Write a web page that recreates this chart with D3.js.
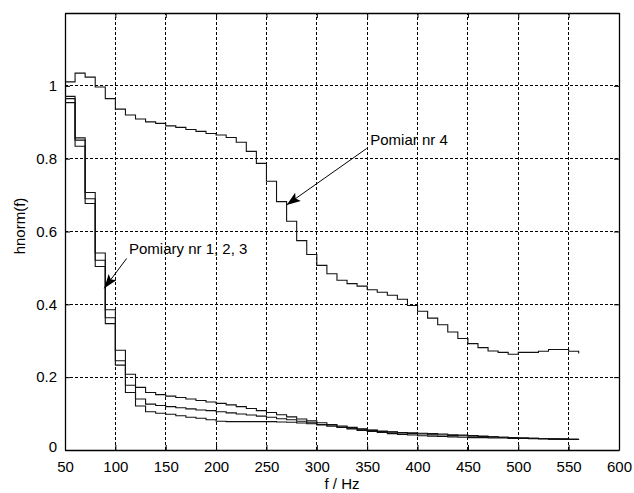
<!DOCTYPE html>
<meta charset="utf-8">
<html>
<head>
<style>
  body { margin: 0; background: #fff; }
  text { font-family: "Liberation Sans", Arial, sans-serif; fill: #000; }
</style>
</head>
<body>
<script src="https://d3js.org/d3.v7.min.js"></script>
<div id="chart"></div>
<script>

// frequency of each step (Hz)
var freqs = [50, 60, 70, 80, 90, 100, 110, 120, 130, 140, 150, 160, 170, 180, 190,
             200, 210, 220, 230, 240, 250, 260, 270, 280, 290, 300, 310, 320, 330, 340,
             350, 360, 370, 380, 390, 400, 410, 420, 430, 440, 450, 460, 470, 480, 490,
             500, 510, 520, 530, 540, 550, 560];

// Pomiar nr 1, 2, 3 (upper / middle / lower)
var h1 = [0.971, 0.857, 0.707, 0.541, 0.385, 0.274, 0.208, 0.172, 0.158, 0.152, 0.148, 0.144, 0.140, 0.136, 0.132,
          0.128, 0.124, 0.119, 0.114, 0.108, 0.103, 0.097, 0.091, 0.085, 0.080, 0.075, 0.070, 0.066, 0.062, 0.058,
          0.055, 0.052, 0.050, 0.048, 0.047, 0.046, 0.045, 0.044, 0.042, 0.041, 0.040, 0.038, 0.036, 0.035, 0.034,
          0.033, 0.032, 0.031, 0.030, 0.030, 0.029, 0.028];
var h2 = [0.965, 0.851, 0.690, 0.521, 0.363, 0.245, 0.178, 0.140, 0.126, 0.122, 0.119, 0.116, 0.113, 0.110, 0.108,
          0.105, 0.102, 0.099, 0.096, 0.093, 0.090, 0.086, 0.083, 0.079, 0.075, 0.070, 0.066, 0.062, 0.058, 0.054,
          0.051, 0.048, 0.045, 0.043, 0.041, 0.039, 0.038, 0.037, 0.036, 0.035, 0.034, 0.034, 0.033, 0.033, 0.032,
          0.032, 0.031, 0.031, 0.030, 0.030, 0.029, 0.029];
var h3 = [0.954, 0.834, 0.677, 0.504, 0.347, 0.233, 0.158, 0.121, 0.105, 0.101, 0.098, 0.094, 0.090, 0.087, 0.083,
          0.079, 0.078, 0.078, 0.078, 0.078, 0.078, 0.077, 0.076, 0.074, 0.072, 0.069, 0.066, 0.063, 0.060, 0.057,
          0.054, 0.051, 0.049, 0.047, 0.045, 0.044, 0.042, 0.041, 0.040, 0.039, 0.038, 0.037, 0.036, 0.035, 0.034,
          0.033, 0.032, 0.031, 0.031, 0.030, 0.030, 0.030];
// Pomiar nr 4
var h4 = [1.011, 1.035, 1.024, 0.997, 0.965, 0.936, 0.920, 0.909, 0.901, 0.897, 0.890, 0.886, 0.880, 0.875, 0.869,
          0.865, 0.858, 0.845, 0.820, 0.787, 0.738, 0.682, 0.628, 0.575, 0.537, 0.507, 0.484, 0.466, 0.457, 0.450,
          0.440, 0.433, 0.425, 0.414, 0.397, 0.381, 0.362, 0.344, 0.324, 0.306, 0.292, 0.281, 0.272, 0.268, 0.263,
          0.268, 0.268, 0.271, 0.276, 0.276, 0.271, 0.265];

var xTicks = [50, 100, 150, 200, 250, 300, 350, 400, 450, 500, 550, 600];
var yTicks = [0, 0.2, 0.4, 0.6, 0.8, 1];

// annotations: text position and arrow from -> to, in data units
var notes = [
  {label: "Pomiar nr 4", tx: 353, ty: 0.837, x1: 349.5, y1: 0.828, x2: 270, y2: 0.673},
  {label: "Pomiary nr 1, 2, 3", tx: 113.5, ty: 0.538, x1: 111.2, y1: 0.526, x2: 89, y2: 0.444}
];

var W = 634, H = 493;
var pLeft = 65, pRight = 619, pTop = 13, pBottom = 450;

var svg = d3.select("#chart").append("svg")
    .attr("width", W)
    .attr("height", H);

var x = d3.scaleLinear().domain([50, 600]).range([pLeft, pRight]);
var y = d3.scaleLinear().domain([0, 1.2]).range([pBottom, pTop]);

// grid
var grid = svg.append("g")
    .attr("stroke", "#000")
    .attr("stroke-width", 1)
    .attr("stroke-dasharray", "3,2")
    .attr("shape-rendering", "crispEdges");
grid.selectAll(".gx")
    .data(xTicks.slice(1, -1))
    .enter().append("line")
      .attr("x1", function(d) { return x(d); })
      .attr("x2", function(d) { return x(d); })
      .attr("y1", pBottom).attr("y2", pTop);
grid.selectAll(".gy")
    .data(yTicks.slice(1))
    .enter().append("line")
      .attr("y1", function(d) { return y(d); })
      .attr("y2", function(d) { return y(d); })
      .attr("x1", pLeft).attr("x2", pRight);

// axes (ticks inside, mirrored on top/right)
var xAxis = svg.append("g")
    .attr("transform", "translate(0," + pBottom + ")")
    .call(d3.axisBottom(x).tickValues(xTicks).tickSizeInner(-5).tickSizeOuter(0).tickPadding(11));
var xTop = svg.append("g")
    .attr("transform", "translate(0," + pTop + ")")
    .call(d3.axisTop(x).tickValues(xTicks).tickSizeInner(-5).tickSizeOuter(0).tickFormat(""));
var yAxis = svg.append("g")
    .attr("transform", "translate(" + pLeft + ",0)")
    .call(d3.axisLeft(y).tickValues(yTicks).tickSizeInner(-5).tickSizeOuter(0).tickPadding(8)
      .tickFormat(function(d) { return d === 0 || d === 1 ? d3.format("d")(d) : d3.format(".1f")(d); }));
var yRight = svg.append("g")
    .attr("transform", "translate(" + pRight + ",0)")
    .call(d3.axisRight(y).tickValues(yTicks).tickSizeInner(-5).tickSizeOuter(0).tickFormat(""));

svg.selectAll(".domain").attr("stroke", "#000").attr("stroke-width", 1.3);
svg.selectAll(".tick line").attr("stroke", "#000");
svg.selectAll(".tick text")
    .style("font-family", "'Liberation Sans', Arial, sans-serif")
    .style("font-size", "15px")
    .attr("fill", "#000");
yAxis.selectAll(".tick").filter(function(d) { return d === 0; }).select("text").attr("dy", "0.12em");

// stair lines
var line = d3.line()
    .curve(d3.curveStepAfter)
    .x(function(d) { return x(d[0]); })
    .y(function(d) { return y(d[1]); });

[h1, h2, h3, h4].forEach(function(series) {
  svg.append("path")
    .datum(freqs.map(function(f, i) { return [f, series[i]]; }))
    .attr("fill", "none")
    .attr("stroke", "#111")
    .attr("stroke-width", 1.1)
    .attr("d", line);
});

// arrow head
svg.append("defs").append("marker")
    .attr("id", "arrow")
    .attr("markerUnits", "userSpaceOnUse")
    .attr("viewBox", "0 0 14 10")
    .attr("refX", 14).attr("refY", 5)
    .attr("markerWidth", 14).attr("markerHeight", 10)
    .attr("orient", "auto")
  .append("path")
    .attr("d", "M0,0 L14,5 L0,10 L3,5 Z")
    .attr("fill", "#000");

notes.forEach(function(n) {
  svg.append("line")
    .attr("x1", x(n.x1)).attr("y1", y(n.y1))
    .attr("x2", x(n.x2)).attr("y2", y(n.y2))
    .attr("stroke", "#000")
    .attr("stroke-width", 1)
    .attr("marker-end", "url(#arrow)");
  svg.append("text")
    .attr("x", x(n.tx))
    .attr("y", y(n.ty))
    .style("font-size", "15px")
    .text(n.label);
});

// axis labels
svg.append("text")
    .attr("x", (pLeft + pRight) / 2)
    .attr("y", 489)
    .attr("text-anchor", "middle")
    .style("font-size", "15px")
    .text("f / Hz");

svg.append("text")
    .attr("transform", "translate(25," + 226 + ") rotate(-90)")
    .attr("text-anchor", "middle")
    .style("font-size", "15px")
    .text("hnorm(f)");

</script>
</body>
</html>
